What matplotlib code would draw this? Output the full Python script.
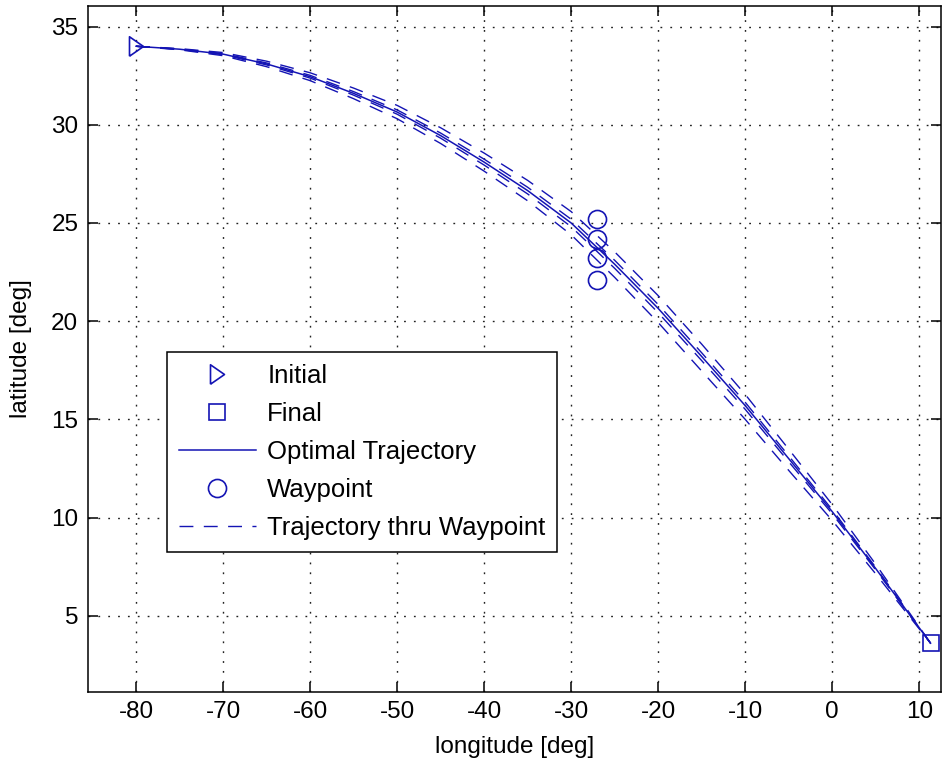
import numpy as np
import matplotlib
matplotlib.use("Agg")
from matplotlib import pyplot as plt

plt.rcParams['font.family'] = ['Liberation Sans', 'DejaVu Sans']
plt.rcParams['axes.unicode_minus'] = False

# optimal trajectory
lon = [-80, -75, -70, -65, -60, -55, -50, -45, -40, -35, -30, -25, -20, -15, -10, -5, 0, 5, 11.3]
lat_opt = [34.0, 33.85, 33.6, 33.1, 32.45, 31.6, 30.65, 29.45, 28.1, 26.65, 25.0, 22.9, 20.65,
           18.2, 15.7, 13.0, 10.3, 7.4, 3.6]

# trajectories thru the waypoints (dashed)
lat_wp1 = [34.0, 33.88, 33.68, 33.24, 32.65, 31.87, 30.99, 29.85, 28.56, 27.17, 25.58, 23.53, 21.30,
           18.83, 16.27, 13.48, 10.66, 7.62, 3.6]
lat_wp2 = [34.0, 33.86, 33.63, 33.15, 32.52, 31.69, 30.76, 29.58, 28.25, 26.82, 25.19, 23.10, 20.85,
           18.39, 15.87, 13.14, 10.40, 7.46, 3.6]
lat_wp3 = [34.0, 33.84, 33.57, 33.05, 32.38, 31.51, 30.54, 29.32, 27.95, 26.48, 24.81, 22.69, 20.43,
           17.99, 15.51, 12.84, 10.19, 7.33, 3.6]
lat_wp4 = [34.0, 33.82, 33.52, 32.96, 32.25, 31.33, 30.31, 29.05, 27.64, 26.13, 24.40, 22.23, 19.93,
           17.46, 15.00, 12.40, 9.85, 7.13, 3.6]

wp_lon = [-27, -27, -27, -27]
wp_lat = [25.2, 24.2, 23.2, 22.1]

init_pt = (-80, 34.0)
final_pt = (11.3, 3.6)

blue = "#1414b4"
fs = 17.5
fs_leg = 18.5

tri = [(-0.72, -1.0), (0.72, 0.0), (-0.72, 1.0), (-0.72, -1.0)]

fig = plt.figure(figsize=(9.49, 7.66), dpi=100)
x0, x1, y0, y1 = 88, 941, 6, 691.7
ax = fig.add_axes([x0 / 949, 1 - y1 / 766, (x1 - x0) / 949, (y1 - y0) / 766])

ax.plot(init_pt[0], init_pt[1], marker=tri, ms=14, mfc="none", mec=blue, mew=1.2, ls="none",
        label="Initial", clip_on=False, zorder=5)
ax.plot(final_pt[0], final_pt[1], marker="s", ms=11.5, mfc="none", mec=blue, mew=1.2, ls="none",
        label="Final", clip_on=False, zorder=5)
ax.plot(lon, lat_opt, c=blue, lw=1.1, label="Optimal Trajectory")
ax.plot(wp_lon, wp_lat, marker="o", ms=13, mfc="none", mec=blue, mew=1.2, ls="none", label="Waypoint")
for i, lat in enumerate([lat_wp1, lat_wp2, lat_wp3, lat_wp4]):
    ax.plot(lon, lat, c=blue, lw=1.0, dashes=(10, 7.5),
            label="Trajectory thru Waypoint" if i == 0 else None)

ax.set_xlim(-85.52, 12.5)
ax.set_ylim(1.13, 36.05)
ax.set_xticks(np.arange(-80, 11, 10))
ax.set_yticks(np.arange(5, 36, 5))

ax.grid(True, color="#222222", linestyle=(0, (1.3, 5.8)), lw=1.0)
ax.tick_params(direction="in", length=7, width=1.1, top=True, right=True, labelsize=fs, pad=7)
for s in ax.spines.values():
    s.set_linewidth(1.1)

ax.set_xlabel("longitude [deg]", fontsize=fs, labelpad=9)
ax.set_ylabel("latitude [deg]", fontsize=fs, labelpad=14)

leg = ax.legend(loc="upper left", bbox_to_anchor=((167 - x0) / (x1 - x0), (y1 - 352) / (y1 - y0)),
                borderaxespad=0, fontsize=fs_leg, numpoints=1, handlelength=3.0, handletextpad=0.45,
                labelspacing=0.55, borderpad=0.45, fancybox=False, framealpha=1)
leg.get_frame().set_edgecolor("black")
leg.get_frame().set_linewidth(1.1)

fig.savefig("out.png", dpi=100)
